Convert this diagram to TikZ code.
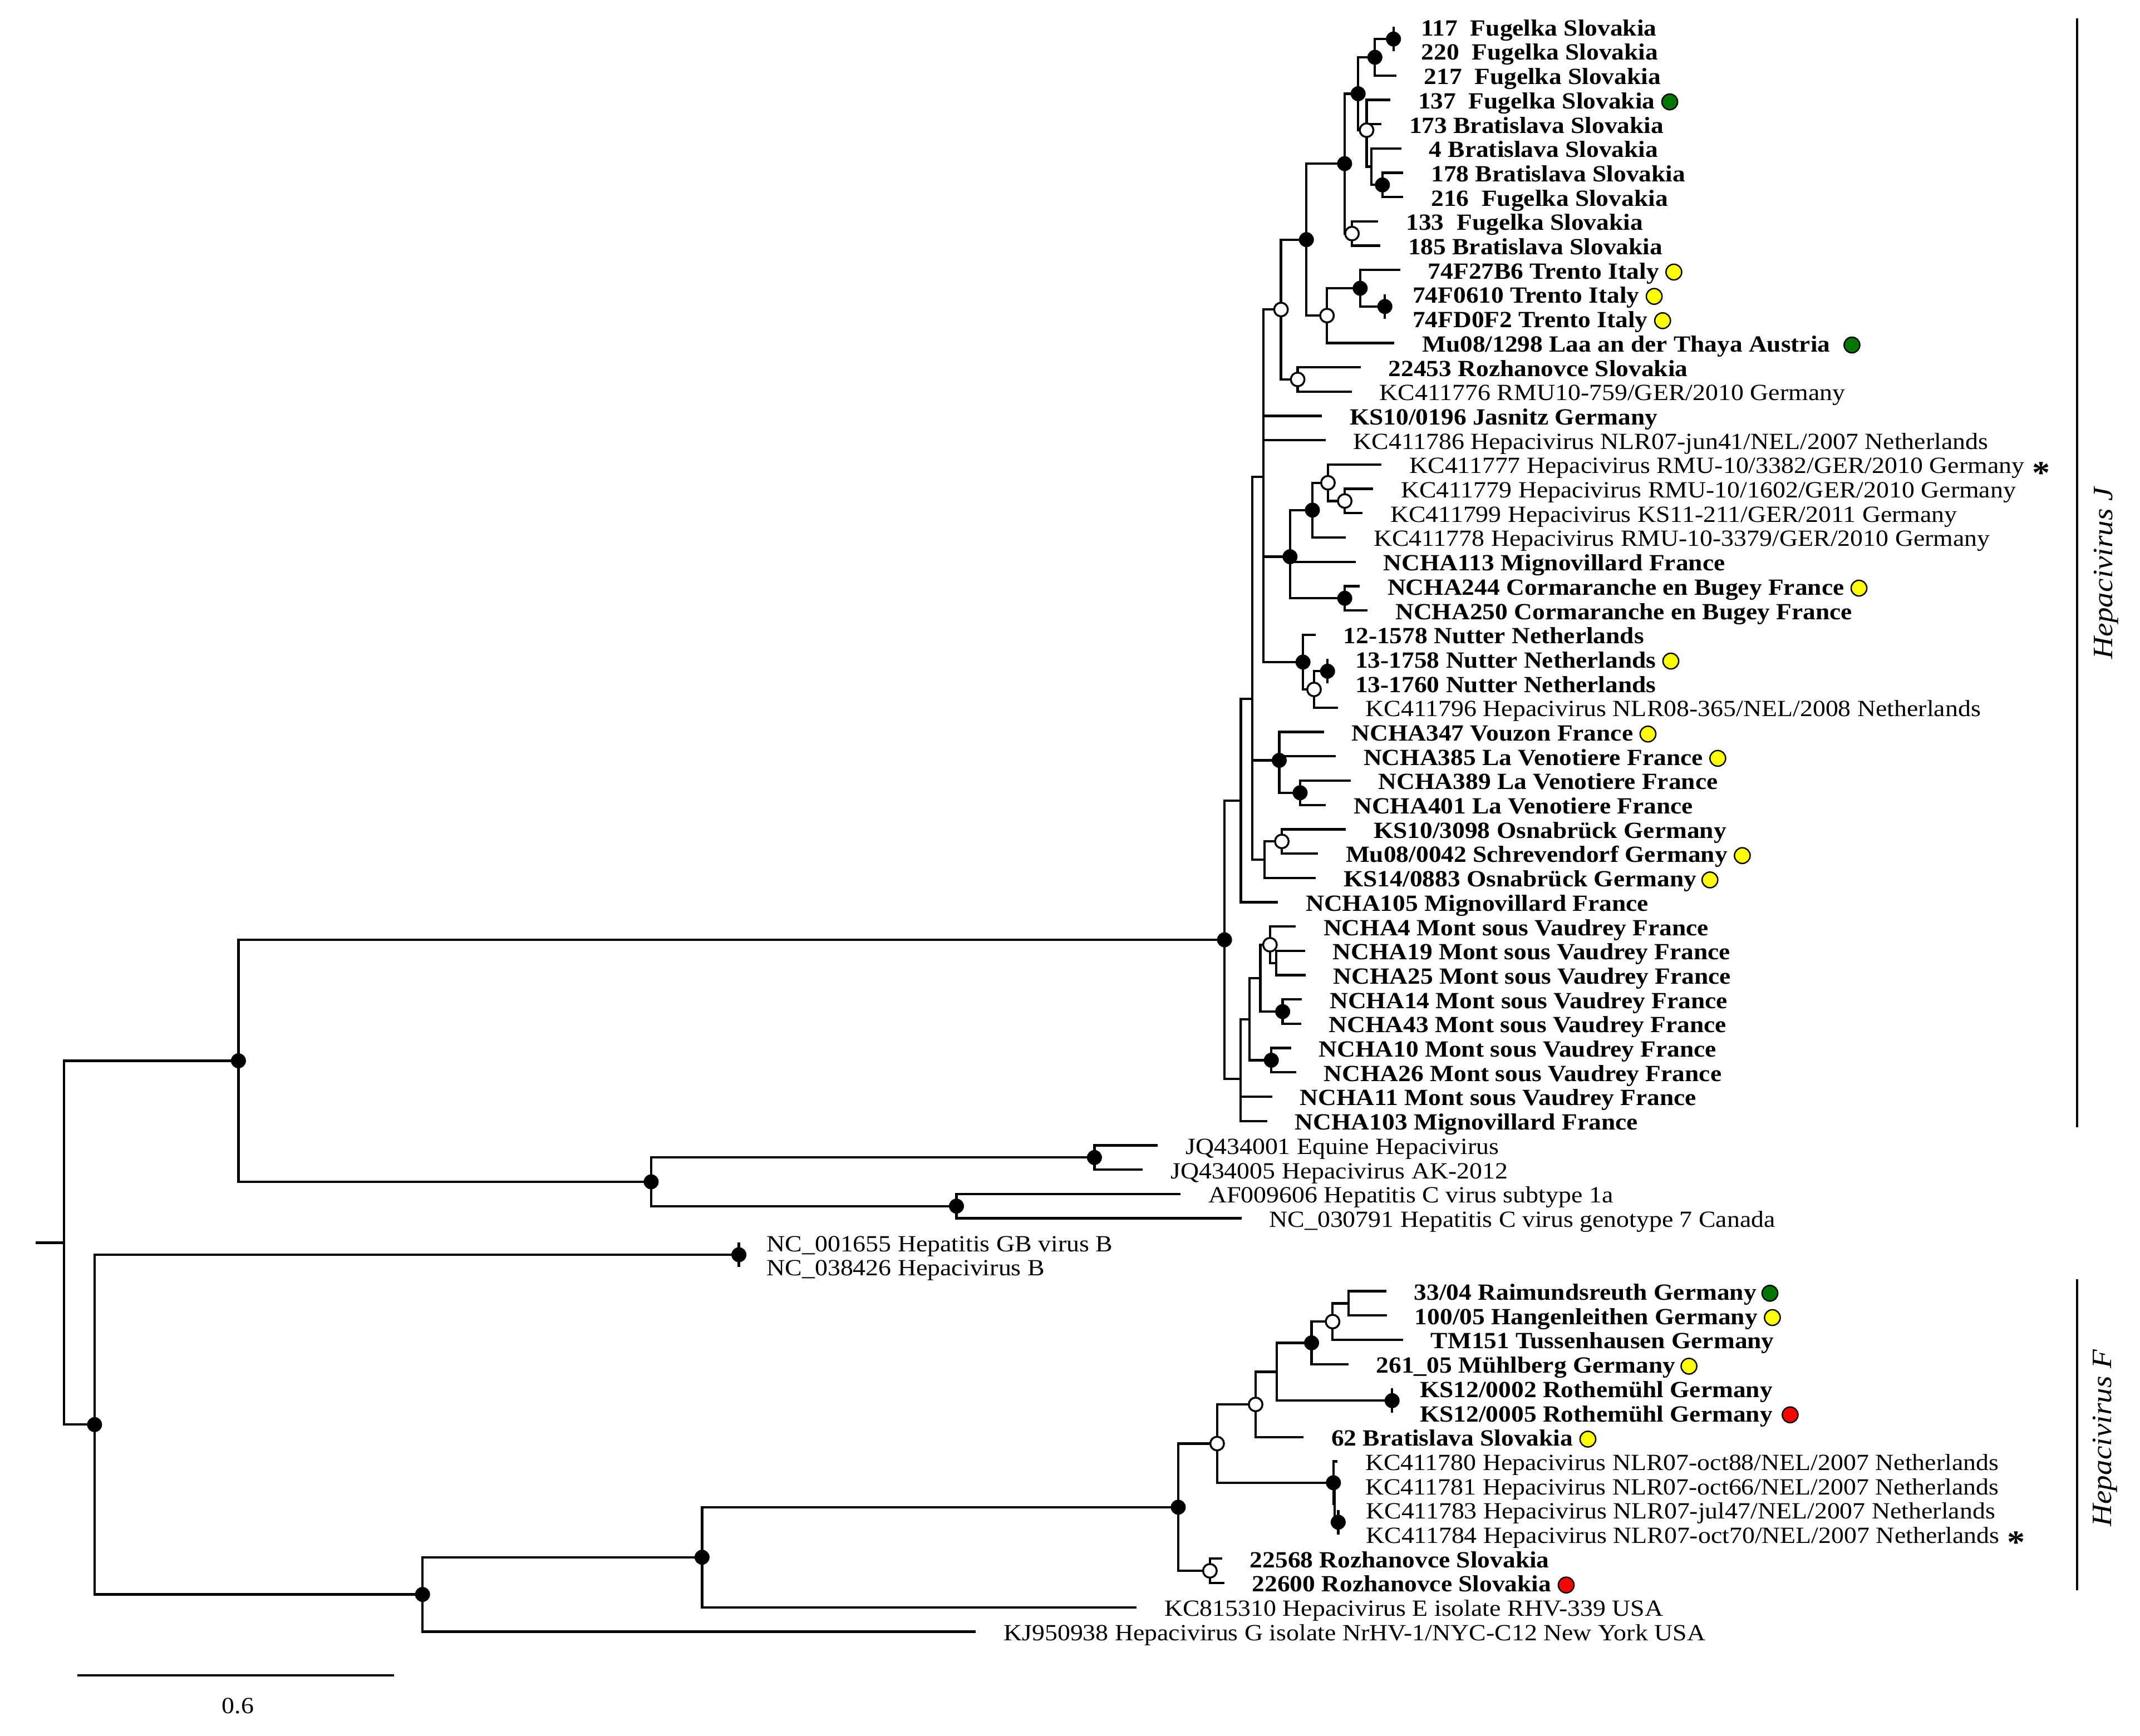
\documentclass[tikz,border=0pt]{standalone}
\usepackage{fontspec}
\setmainfont{Liberation Serif}[FakeStretch=1.1,BoldFeatures={FakeStretch=1.09}]
\newcommand\lfont{\fontsize{17}{20}\selectfont}
\newcommand\leaf[5]{\coordinate (t#1) at (#2,#3);\node[#4] (l#1) at ([xshift=19.5pt,yshift=-6.5pt]t#1) {#5};}
\definecolor{dgreen}{RGB}{0,120,0}
\definecolor{dyellow}{RGB}{255,255,0}
\definecolor{dred}{RGB}{255,0,0}
\begin{document}
\begin{tikzpicture}[x=1pt,y=-1pt,line width=1.75pt,
  lb/.style={anchor=base west,inner sep=0pt,font=\lfont\bfseries},
  ln/.style={anchor=base west,inner sep=0pt,font=\lfont},
  fdot/.style={circle,fill=black,minimum size=11pt,inner sep=0pt},
  odot/.style={circle,draw=black,fill=white,line width=1.4pt,minimum size=10pt,inner sep=0pt},
  cdot/.style={circle,draw=black,line width=1pt,fill=#1,minimum size=11.5pt,inner sep=0pt},
  star/.style={anchor=base west,inner sep=0pt,font=\fontsize{24}{26}\selectfont\bfseries},
  clade/.style={rotate=90,inner sep=0pt,font=\fontsize{20.5}{24}\selectfont\itshape},
  bar/.style={line width=1.75pt}]
\useasboundingbox (0,0) rectangle (1568,1272);
\fill[white] (0,0) rectangle (1568,1272);
% ---- leaves ----
\leaf{1}{1021}{19.7}{lb}{117\ \ Fugelka Slovakia}
\leaf{2}{1021}{37.52}{lb}{220\ \ Fugelka Slovakia}
\leaf{3}{1023}{55.34}{lb}{217\ \ Fugelka Slovakia}
\leaf{4}{1018.7}{73.16}{lb}{137\ \ Fugelka Slovakia}
\leaf{5}{1012.2}{90.98}{lb}{173 Bratislava Slovakia}
\leaf{6}{1026.7}{108.8}{lb}{4 Bratislava Slovakia}
\leaf{7}{1028.2}{126.62}{lb}{178 Bratislava Slovakia}
\leaf{8}{1028.2}{144.44}{lb}{216\ \ Fugelka Slovakia}
\leaf{9}{1009.9}{162.26}{lb}{133\ \ Fugelka Slovakia}
\leaf{10}{1011.4}{180.08}{lb}{185 Bratislava Slovakia}
\leaf{11}{1026}{197.9}{lb}{74F27B6 Trento Italy}
\leaf{12}{1014.7}{215.72}{lb}{74F0610 Trento Italy}
\leaf{13}{1014.7}{233.54}{lb}{74FD0F2 Trento Italy}
\leaf{14}{1021.6}{251.36}{lb}{Mu08/1298 Laa an der Thaya Austria}
\leaf{15}{997}{269.18}{lb}{22453 Rozhanovce Slovakia}
\leaf{16}{990.5}{287}{ln}{KC411776 RMU10-759/GER/2010 Germany}
\leaf{17}{968.6}{304.82}{lb}{KS10/0196 Jasnitz Germany}
\leaf{18}{971.2}{322.64}{ln}{KC411786 Hepacivirus NLR07-jun41/NEL/2007 Netherlands}
\leaf{19}{1012.3}{340.46}{ln}{KC411777 Hepacivirus RMU-10/3382/GER/2010 Germany}
\leaf{20}{1006.1}{358.28}{ln}{KC411779 Hepacivirus RMU-10/1602/GER/2010 Germany}
\leaf{21}{998.4}{376.1}{ln}{KC411799 Hepacivirus KS11-211/GER/2011 Germany}
\leaf{22}{986.1}{393.92}{ln}{KC411778 Hepacivirus RMU-10-3379/GER/2010 Germany}
\leaf{23}{993.4}{411.74}{lb}{NCHA113 Mignovillard France}
\leaf{24}{996.3}{429.56}{lb}{NCHA244 Cormaranche en Bugey France}
\leaf{25}{1002.1}{447.38}{lb}{NCHA250 Cormaranche en Bugey France}
\leaf{26}{963.9}{465.2}{lb}{12-1578 Nutter Netherlands}
\leaf{27}{972.7}{483.02}{lb}{13-1758 Nutter Netherlands}
\leaf{28}{972.7}{500.84}{lb}{13-1760 Nutter Netherlands}
\leaf{29}{980.3}{518.66}{ln}{KC411796 Hepacivirus NLR08-365/NEL/2008 Netherlands}
\leaf{30}{970}{536.48}{lb}{NCHA347 Vouzon France}
\leaf{31}{978.8}{554.3}{lb}{NCHA385 La Venotiere France}
\leaf{32}{989.7}{572.12}{lb}{NCHA389 La Venotiere France}
\leaf{33}{971.5}{589.94}{lb}{NCHA401 La Venotiere France}
\leaf{34}{986.1}{607.76}{lb}{KS10/3098 Osnabrück Germany}
\leaf{35}{965.7}{625.58}{lb}{Mu08/0042 Schrevendorf Germany}
\leaf{36}{964.2}{643.4}{lb}{KS14/0883 Osnabrück Germany}
\leaf{37}{936.4}{661.22}{lb}{NCHA105 Mignovillard France}
\leaf{38}{949.4}{679.04}{lb}{NCHA4 Mont sous Vaudrey France}
\leaf{39}{956.2}{696.86}{lb}{NCHA19 Mont sous Vaudrey France}
\leaf{40}{956.6}{714.68}{lb}{NCHA25 Mont sous Vaudrey France}
\leaf{41}{954}{732.5}{lb}{NCHA14 Mont sous Vaudrey France}
\leaf{42}{953.3}{750.32}{lb}{NCHA43 Mont sous Vaudrey France}
\leaf{43}{946}{768.14}{lb}{NCHA10 Mont sous Vaudrey France}
\leaf{44}{949.7}{785.96}{lb}{NCHA26 Mont sous Vaudrey France}
\leaf{45}{932.2}{803.78}{lb}{NCHA11 Mont sous Vaudrey France}
\leaf{46}{928.5}{821.6}{lb}{NCHA103 Mignovillard France}
\leaf{47}{848.4}{839.42}{ln}{JQ434001 Equine Hepacivirus}
\leaf{48}{837.3}{857.24}{ln}{JQ434005 Hepacivirus AK-2012}
\leaf{49}{865}{875.06}{ln}{AF009606 Hepatitis C virus subtype 1a}
\leaf{50}{909.6}{892.88}{ln}{NC\_030791 Hepatitis C virus genotype 7 Canada}
\leaf{51}{541.4}{910.7}{ln}{NC\_001655 Hepatitis GB virus B}
\leaf{52}{541.4}{928.52}{ln}{NC\_038426 Hepacivirus B}
\leaf{53}{1015.7}{946.34}{lb}{33/04 Raimundsreuth Germany}
\leaf{54}{1016.2}{964.16}{lb}{100/05 Hangenleithen Germany}
\leaf{55}{1028}{981.98}{lb}{TM151 Tussenhausen Germany}
\leaf{56}{988}{999.8}{lb}{261\_05 Mühlberg Germany}
\leaf{57}{1020}{1017.62}{lb}{KS12/0002 Rothemühl Germany}
\leaf{58}{1020}{1035.44}{lb}{KS12/0005 Rothemühl Germany}
\leaf{59}{955.1}{1053.26}{lb}{62 Bratislava Slovakia}
\leaf{60}{980}{1071.08}{ln}{KC411780 Hepacivirus NLR07-oct88/NEL/2007 Netherlands}
\leaf{61}{980}{1088.9}{ln}{KC411781 Hepacivirus NLR07-oct66/NEL/2007 Netherlands}
\leaf{62}{980.5}{1106.72}{ln}{KC411783 Hepacivirus NLR07-jul47/NEL/2007 Netherlands}
\leaf{63}{980.5}{1124.54}{ln}{KC411784 Hepacivirus NLR07-oct70/NEL/2007 Netherlands}
\leaf{64}{895.5}{1142.36}{lb}{22568 Rozhanovce Slovakia}
\leaf{65}{897}{1160.18}{lb}{22600 Rozhanovce Slovakia}
\leaf{66}{832.8}{1178}{ln}{KC815310 Hepacivirus E isolate RHV-339 USA}
\leaf{67}{715}{1195.82}{ln}{KJ950938 Hepacivirus G isolate NrHV-1/NYC-C12 New York USA}
% ---- internal nodes ----
\coordinate (n117) at (1021,28.61);
\coordinate (nA) at (1007.4,41.98);
\coordinate (nE) at (1012.9,135.53);
\coordinate (nD) at (1004.9,122.17);
\coordinate (nC) at (1001.3,95.4);
\coordinate (nB) at (995.1,68.69);
\coordinate (nG) at (990.6,171.17);
\coordinate (nF) at (985.2,119.93);
\coordinate (nK) at (1014.7,224.63);
\coordinate (nJ) at (996.6,211.27);
\coordinate (nI) at (972.3,231.31);
\coordinate (nH) at (957.2,175.62);
\coordinate (nM) at (950.8,278.09);
\coordinate (nL) at (938.6,226.86);
\coordinate (nO4) at (985.3,367.19);
\coordinate (nO3) at (973,353.83);
\coordinate (nO1) at (961.6,373.88);
\coordinate (nO2) at (985.3,438.47);
\coordinate (nO) at (945.2,408.03);
\coordinate (nP3) at (972.7,491.93);
\coordinate (nP2) at (962.8,505.3);
\coordinate (nP) at (954.7,485.25);
\coordinate (nN) at (925.6,349.5);
\coordinate (nUB) at (952.6,581.03);
\coordinate (nU) at (937.3,557.27);
\coordinate (nT) at (939.2,616.67);
\coordinate (nS) at (926.4,630.04);
\coordinate (nQ) at (917.6,512.27);
\coordinate (nR) at (909.2,586.75);
\coordinate (nZ2) at (935.1,705.77);
\coordinate (nZ) at (930.5,692.4);
\coordinate (nAA) at (939.8,741.41);
\coordinate (nX) at (923.4,716.9);
\coordinate (nY) at (931.5,777.05);
\coordinate (nW) at (915.4,746.98);
\coordinate (nV) at (909,790.79);
\coordinate (nJr) at (897.2,688.77);
\coordinate (nJQ) at (801.9,848.33);
\coordinate (nHCV) at (700.8,883.97);
\coordinate (nX2) at (477.1,866.15);
\coordinate (n1) at (174.7,777.46);
\coordinate (nGB) at (541.4,919.61);
\coordinate (nKK) at (988,955.25);
\coordinate (nJJ) at (976.4,968.62);
\coordinate (nHH) at (961,984.21);
\coordinate (nII) at (1020,1026.53);
\coordinate (nGG) at (935.6,1005.37);
\coordinate (nDD) at (920,1029.32);
\coordinate (nFF) at (980.5,1115.63);
\coordinate (nEE2) at (978,1102.3);
\coordinate (nEE) at (977,1086.7);
\coordinate (nBB) at (891.8,1058.01);
\coordinate (nCC) at (886.5,1151.27);
\coordinate (nF0) at (863.3,1104.64);
\coordinate (n514) at (514.4,1141.32);
\coordinate (n310) at (309.6,1168.57);
\coordinate (n2) at (69.3,1044.09);
\coordinate (root) at (47,910.78);
\coordinate (stub) at (26,910.78);
% ---- branches ----
\draw (t1) -- (t2);
\draw (nA) |- (n117); \draw (nA) |- (t3);
\draw (nE) |- (t7); \draw (nE) |- (t8);
\draw (nD) |- (t6); \draw (nD) |- (nE);
\draw (nC) |- (t4); \draw (nC) |- (t5); \draw (nC) |- (nD);
\draw (nB) |- (nA); \draw (nB) |- (nC);
\draw (nG) |- (t9); \draw (nG) |- (t10);
\draw (nF) |- (nB); \draw (nF) |- (nG);
\draw (t12) -- (t13);
\draw (nJ) |- (t11); \draw (nJ) |- (nK);
\draw (nI) |- (nJ); \draw (nI) |- (t14);
\draw (nH) |- (nF); \draw (nH) |- (nI);
\draw (nM) |- (t15); \draw (nM) |- (t16);
\draw (nL) |- (nH); \draw (nL) |- (nM);
\draw (nO4) |- (t20); \draw (nO4) |- (t21);
\draw (nO3) |- (t19); \draw (nO3) |- (nO4);
\draw (nO1) |- (nO3); \draw (nO1) |- (t22);
\draw (nO2) |- (t24); \draw (nO2) |- (t25);
\draw (nO) |- (nO1); \draw (nO) |- (t23); \draw (nO) |- (nO2);
\draw (t27) -- (t28);
\draw (nP2) |- (nP3); \draw (nP2) |- (t29);
\draw (nP) |- (t26); \draw (nP) |- (nP2);
\draw (nN) |- (nL); \draw (nN) |- (t17); \draw (nN) |- (t18); \draw (nN) |- (nO); \draw (nN) |- (nP);
\draw (nUB) |- (t32); \draw (nUB) |- (t33);
\draw (nU) |- (t30); \draw (nU) |- (t31); \draw (nU) |- (nUB);
\draw (nT) |- (t34); \draw (nT) |- (t35);
\draw (nS) |- (nT); \draw (nS) |- (t36);
\draw (nQ) |- (nN); \draw (nQ) |- (nU); \draw (nQ) |- (nS);
\draw (nR) |- (nQ); \draw (nR) |- (t37);
\draw (nZ2) |- (t39); \draw (nZ2) |- (t40);
\draw (nZ) |- (t38); \draw (nZ) |- (nZ2);
\draw (nAA) |- (t41); \draw (nAA) |- (t42);
\draw (nX) |- (nZ); \draw (nX) |- (nAA);
\draw (nY) |- (t43); \draw (nY) |- (t44);
\draw (nW) |- (nX); \draw (nW) |- (nY);
\draw (nV) |- (nW); \draw (nV) |- (t45); \draw (nV) |- (t46);
\draw (nJr) |- (nR); \draw (nJr) |- (nV);
\draw (nJQ) |- (t47); \draw (nJQ) |- (t48);
\draw (nHCV) |- (t49); \draw (nHCV) |- (t50);
\draw (nX2) |- (nJQ); \draw (nX2) |- (nHCV);
\draw (n1) |- (nJr); \draw (n1) |- (nX2);
\draw (t51) -- (t52);
\draw (nKK) |- (t53); \draw (nKK) |- (t54);
\draw (nJJ) |- (nKK); \draw (nJJ) |- (t55);
\draw (nHH) |- (nJJ); \draw (nHH) |- (t56);
\draw (t57) -- (t58);
\draw (nGG) |- (nHH); \draw (nGG) |- (nII);
\draw (nDD) |- (nGG); \draw (nDD) |- (t59);
\draw (t62) -- (t63);
\draw (nEE2) |- (t61); \draw (nEE2) |- (nFF);
\draw (nEE) |- (t60); \draw (nEE) |- (nEE2);
\draw (nBB) |- (nDD); \draw (nBB) |- (nEE);
\draw (nCC) |- (t64); \draw (nCC) |- (t65);
\draw (nF0) |- (nBB); \draw (nF0) |- (nCC);
\draw (n514) |- (nF0); \draw (n514) |- (t66);
\draw (n310) |- (n514); \draw (n310) |- (t67);
\draw (n2) |- (nGB); \draw (n2) |- (n310);
\draw (root) |- (n1); \draw (root) |- (n2);
\draw (stub) -- (root);
% ---- support markers ----
\foreach \p in {n117,nA,nE,nB,nF,nK,nJ,nH,nO1,nO2,nO,nP3,nP,nUB,nU,nAA,nY,nJr,nJQ,nHCV,nX2,n1,nGB,nHH,nII,nEE,nFF,nF0,n514,n310,n2}
  \node[fdot] at (\p) {};
\foreach \p in {nC,nG,nI,nM,nL,nO4,nO3,nP2,nT,nZ,nJJ,nDD,nBB,nCC}
  \node[odot] at (\p) {};
% ---- coloured marks ----
\node[cdot=dgreen] at ([xshift=10pt,yshift=5pt]l4.base east) {};
\node[cdot=dyellow] at ([xshift=10pt,yshift=5pt]l11.base east) {};
\node[cdot=dyellow] at ([xshift=10pt,yshift=5pt]l12.base east) {};
\node[cdot=dyellow] at ([xshift=10pt,yshift=5pt]l13.base east) {};
\node[cdot=dgreen] at ([xshift=15pt,yshift=5pt]l14.base east) {};
\node[cdot=dyellow] at ([xshift=10pt,yshift=5pt]l24.base east) {};
\node[cdot=dyellow] at ([xshift=10pt,yshift=5pt]l27.base east) {};
\node[cdot=dyellow] at ([xshift=10pt,yshift=5pt]l30.base east) {};
\node[cdot=dyellow] at ([xshift=10pt,yshift=5pt]l31.base east) {};
\node[cdot=dyellow] at ([xshift=10pt,yshift=5pt]l35.base east) {};
\node[cdot=dyellow] at ([xshift=9pt,yshift=5pt]l36.base east) {};
\node[cdot=dgreen] at ([xshift=9pt,yshift=5pt]l53.base east) {};
\node[cdot=dyellow] at ([xshift=10pt,yshift=5pt]l54.base east) {};
\node[cdot=dyellow] at ([xshift=9pt,yshift=5pt]l56.base east) {};
\node[cdot=dred] at ([xshift=12pt,yshift=5pt]l58.base east) {};
\node[cdot=dyellow] at ([xshift=10pt,yshift=5pt]l59.base east) {};
\node[cdot=dred] at ([xshift=10pt,yshift=5pt]l65.base east) {};
\node[star] at ([xshift=4pt,yshift=-7.5pt]l19.base east) {*};
\node[star] at ([xshift=4pt,yshift=-7.5pt]l63.base east) {*};
% ---- clade bars ----
\coordinate (jtop) at (1521.9,13.4);
\coordinate (jbot) at (1521.9,826);
\coordinate (ftop) at (1521.9,937.6);
\coordinate (fbot) at (1521.9,1165.4);
\draw[bar] (jtop) -- (jbot);
\draw[bar] (ftop) -- (fbot);
\node[clade] (cj) at (1543,420) {Hepacivirus J};
\node[clade] (cf) at (1542.5,1054) {Hepacivirus F};
% ---- scale ----
\coordinate (sa) at (56.6,1228);
\coordinate (sb) at (288.9,1228);
\draw[bar] (sa) -- (sb);
\node[anchor=base,inner sep=0pt,font=\lfont] (sl) at (174.3,1255.8) {0.6};
\end{tikzpicture}
\end{document}
